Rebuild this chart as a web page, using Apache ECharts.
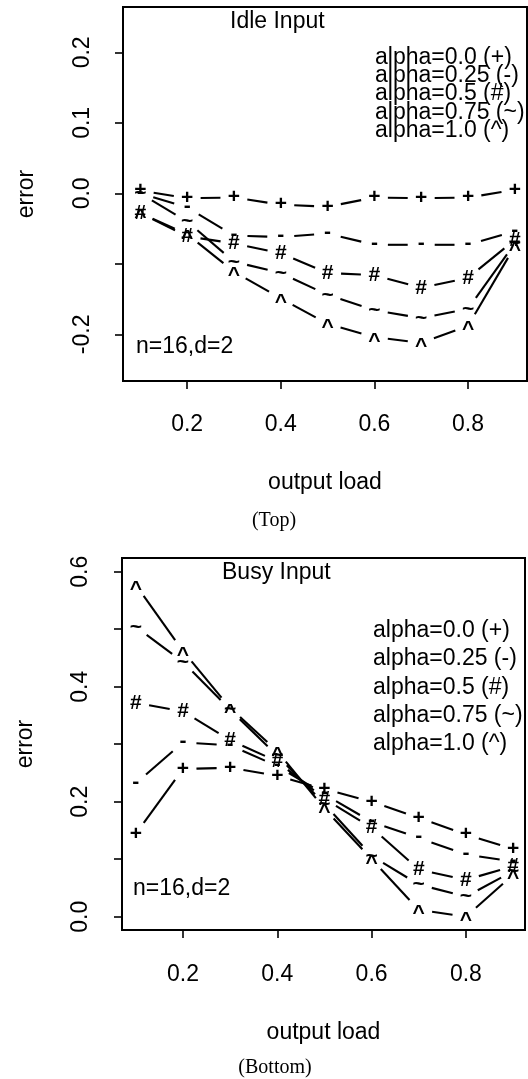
<!DOCTYPE html>
<html>
<head>
<meta charset="utf-8">
<script src="https://cdn.jsdelivr.net/npm/echarts@6/dist/echarts.min.js"></script>
<style>
html,body{margin:0;padding:0;background:#fff;}
#chart{width:528px;height:1079px;}
</style>
</head>
<body>
<div id="chart"></div>
<script>
// ---------- data ----------
const outputLoad = [0.1, 0.2, 0.3, 0.4, 0.5, 0.6, 0.7, 0.8, 0.9];

// Top panel: Idle Input
const idleAlpha000 = [0.004, -0.007, -0.006, -0.016, -0.019, -0.006, -0.007, -0.006, 0.005];
const idleAlpha025 = [0.000, -0.020, -0.060, -0.062, -0.057, -0.073, -0.073, -0.073, -0.054];
const idleAlpha050 = [-0.028, -0.061, -0.071, -0.085, -0.113, -0.116, -0.134, -0.120, -0.066];
const idleAlpha075 = [0.000, -0.040, -0.097, -0.113, -0.144, -0.166, -0.177, -0.164, -0.071];
const idleAlpha100 = [-0.028, -0.058, -0.111, -0.149, -0.185, -0.204, -0.212, -0.188, -0.075];

// Bottom panel: Busy Input
const busyAlpha000 = [0.144, 0.257, 0.259, 0.245, 0.222, 0.200, 0.172, 0.143, 0.118];
const busyAlpha025 = [0.232, 0.303, 0.298, 0.262, 0.213, 0.165, 0.137, 0.108, 0.096];
const busyAlpha050 = [0.372, 0.357, 0.307, 0.270, 0.205, 0.155, 0.082, 0.064, 0.088];
const busyAlpha075 = [0.504, 0.443, 0.360, 0.280, 0.196, 0.106, 0.056, 0.035, 0.079];
const busyAlpha100 = [0.577, 0.462, 0.363, 0.288, 0.188, 0.100, 0.012, 0.000, 0.073];

const legendLabels = ['alpha=0.0 (+)', 'alpha=0.25 (-)', 'alpha=0.5 (#)', 'alpha=0.75 (~)', 'alpha=1.0 (^)'];
const markChars = ['+', '-', '#', '~', '^'];

const xTickValues = [0.2, 0.4, 0.6, 0.8];
const topYTickValues = [-0.2, -0.1, 0.0, 0.1, 0.2];
const topYLabelValues = [-0.2, 0.0, 0.1, 0.2];
const bottomYTickValues = [0.0, 0.1, 0.2, 0.3, 0.4, 0.5, 0.6];
const bottomYLabelValues = [0.0, 0.2, 0.4, 0.6];

const topTitle = 'Idle Input';
const bottomTitle = 'Busy Input';
const noteText = 'n=16,d=2';
const xName = 'output load';
const yName = 'error';
const captions = ['(Top)', '(Bottom)'];

// ---------- drawing ----------
const FONT = '"Liberation Sans", Arial, Helvetica, sans-serif';
const SERIF = '"Liberation Serif", "Times New Roman", serif';
const FS = 23;
const MARK_FS = 21;
const GAP = 13.5;
// vertical nudge so glyph centres sit on the data point
const charNudge = {'+': 0, '-': -1.6, '#': 0, '~': 0, '^': 3.8};

function markSeries(name, ch, ys, axisIdx) {
  const pts = outputLoad.map((x, i) => [x, ys[i]]);
  return {
    type: 'custom',
    name: name,
    coordinateSystem: 'cartesian2d',
    xAxisIndex: axisIdx,
    yAxisIndex: axisIdx,
    data: pts,
    encode: {x: 0, y: 1},
    silent: true,
    clip: false,
    renderItem: function (params, api) {
      const i = params.dataIndex;
      const p = api.coord([api.value(0), api.value(1)]);
      const children = [];
      if (i < pts.length - 1) {
        const q = api.coord(pts[i + 1]);
        const dx = q[0] - p[0], dy = q[1] - p[1];
        const len = Math.sqrt(dx * dx + dy * dy);
        if (len > 2 * GAP + 2) {
          const ux = dx / len, uy = dy / len;
          children.push({
            type: 'line',
            shape: {x1: p[0] + ux * GAP, y1: p[1] + uy * GAP, x2: q[0] - ux * GAP, y2: q[1] - uy * GAP},
            style: {stroke: '#000', lineWidth: 2.1}
          });
        }
      }
      children.push({
        type: 'text',
        x: p[0],
        y: p[1] + charNudge[ch],
        style: {
          text: ch,
          fill: '#000',
          font: 'bold ' + MARK_FS + 'px ' + FONT,
          align: 'center', verticalAlign: 'middle',
          textAlign: 'center', textVerticalAlign: 'middle'
        }
      });
      return {type: 'group', children: children};
    }
  };
}

function xAxisCfg(gridIndex, min, max, labelMargin, nameGap) {
  return {
    type: 'value', gridIndex: gridIndex, min: min, max: max, position: 'bottom',
    axisLine: {show: false, onZero: false},
    splitLine: {show: false},
    axisTick: {show: true, inside: false, length: 8, customValues: xTickValues, lineStyle: {color: '#000', width: 1.6}},
    axisLabel: {customValues: xTickValues, formatter: v => v.toFixed(1), color: '#000', fontSize: FS, fontFamily: FONT, margin: labelMargin},
    name: xName, nameLocation: 'middle', nameGap: nameGap,
    nameTextStyle: {color: '#000', fontSize: FS, fontFamily: FONT}
  };
}
function yAxisCfg(gridIndex, min, max, ticks, labels, labelMargin, nameGap) {
  return {
    type: 'value', gridIndex: gridIndex, min: min, max: max, position: 'left',
    axisLine: {show: false, onZero: false},
    splitLine: {show: false},
    axisTick: {show: true, inside: false, length: 8, customValues: ticks, lineStyle: {color: '#000', width: 1.6}},
    axisLabel: {customValues: labels, formatter: v => v.toFixed(1), rotate: 90, color: '#000', fontSize: FS, fontFamily: FONT, margin: labelMargin},
    name: yName, nameLocation: 'middle', nameGap: nameGap, nameRotate: 90,
    nameTextStyle: {color: '#000', fontSize: FS, fontFamily: FONT}
  };
}

function txt(text, x, y, align, font) {
  return {
    type: 'text', x: x, y: y, silent: true,
    style: {text: text, fill: '#000', font: font || (FS + 'px ' + FONT),
      align: align, verticalAlign: 'middle', textAlign: align, textVerticalAlign: 'middle'}
  };
}

const graphics = [];
graphics.push(txt(topTitle, 230, 22, 'left'));
graphics.push(txt(bottomTitle, 222, 573, 'left'));
graphics.push(txt(noteText, 136, 347, 'left'));
graphics.push(txt(noteText, 133, 889, 'left'));
legendLabels.forEach((s, i) => {
  graphics.push(txt(s, 375, 57.5 + i * 18.3, 'left'));
  graphics.push(txt(s, 373, 630.5 + i * 28.4, 'left'));
});
graphics.push(txt(captions[0], 274, 521, 'center', '20px ' + SERIF));
graphics.push(txt(captions[1], 275, 1068, 'center', '20px ' + SERIF));

const topSets = [idleAlpha000, idleAlpha025, idleAlpha050, idleAlpha075, idleAlpha100];
const bottomSets = [busyAlpha000, busyAlpha025, busyAlpha050, busyAlpha075, busyAlpha100];
const series = [];
topSets.forEach((ys, i) => series.push(markSeries(legendLabels[i], markChars[i], ys, 0)));
bottomSets.forEach((ys, i) => series.push(markSeries(legendLabels[i], markChars[i], ys, 1)));

const option = {
  animation: false,
  backgroundColor: '#fff',
  grid: [
    {left: 123, top: 7, width: 404, height: 374, show: true, borderColor: '#000', borderWidth: 2, backgroundColor: 'transparent', containLabel: false},
    {left: 122, top: 558, width: 403, height: 372, show: true, borderColor: '#000', borderWidth: 2, backgroundColor: 'transparent', containLabel: false}
  ],
  xAxis: [
    xAxisCfg(0, 0.063, 0.926, 32, 90),
    xAxisCfg(1, 0.0707, 0.9254, 33, 91)
  ],
  yAxis: [
    yAxisCfg(0, -0.2662, 0.2643, topYTickValues, topYLabelValues, 29, 85),
    yAxisCfg(1, -0.0231, 0.6238, bottomYTickValues, bottomYLabelValues, 30, 85)
  ],
  graphic: graphics,
  series: series
};

const chart = echarts.init(document.getElementById('chart'), null, {renderer: 'canvas'});
chart.setOption(option);
</script>
</body>
</html>
